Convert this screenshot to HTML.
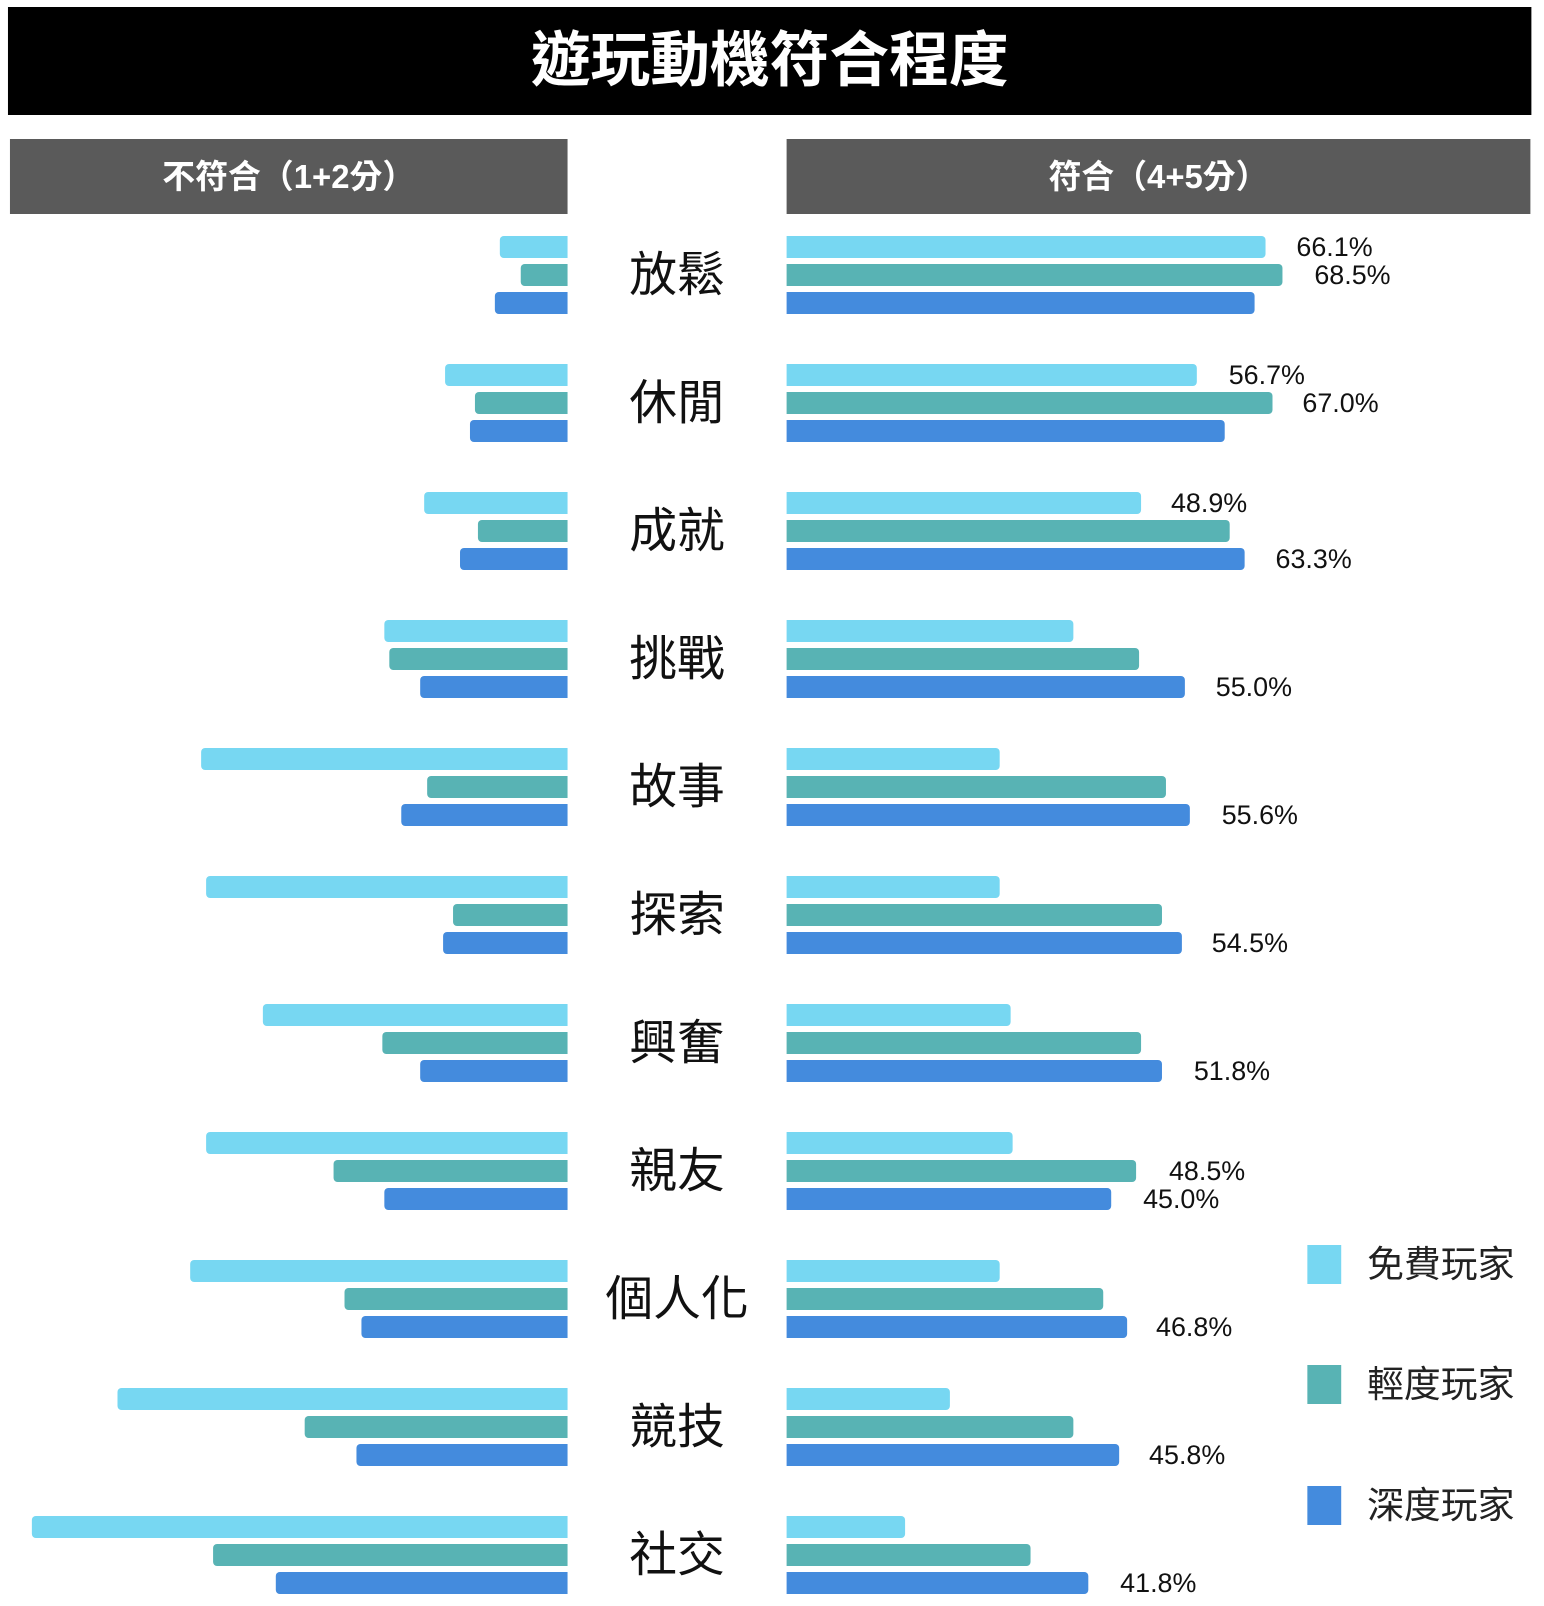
<!DOCTYPE html>
<html><head><meta charset="utf-8"><style>
body{margin:0;width:1544px;height:1606px;background:#fff;position:relative;overflow:hidden;font-family:"Liberation Sans","Noto Sans CJK TC",sans-serif}
#w{position:absolute;left:0;top:0;width:1544px;height:1606px;transform:scaleX(0.9957);transform-origin:0 0}
div{position:absolute;box-sizing:border-box}
.L{background:#77d7f2}.T{background:#58b3b4}.B{background:#448bdd}
.r{left:790px;height:22px;border-radius:0 4px 4px 0}
.lf{height:22px;border-radius:4px 0 0 4px}
.v{font-size:27px;line-height:28px;color:#111;white-space:nowrap}
.c{left:590px;width:180px;text-align:center;font-size:48px;line-height:56px;color:#111}
.h{background:#5a5a5a;color:#fff;font-weight:bold;font-size:33px;text-align:center;top:139px;height:75px;line-height:75px}
.g{font-size:37px;color:#222;left:1373px;line-height:40px}
.s{left:1313px;width:34px;height:39px}
</style></head><body><div id="w">
<div style="left:8px;top:7px;width:1530px;height:108px;background:#000;color:#fff;font-weight:bold;font-size:60px;line-height:108px;text-align:center">遊玩動機符合程度</div>
<div class="h" style="left:10px;width:560px">不符合（1+2分）</div>
<div class="h" style="left:790px;width:747px">符合（4+5分）</div>

<div class="c" style="top:248px">放鬆</div>
<div class="c" style="top:376px">休閒</div>
<div class="c" style="top:504px">成就</div>
<div class="c" style="top:632px">挑戰</div>
<div class="c" style="top:760px">故事</div>
<div class="c" style="top:888px">探索</div>
<div class="c" style="top:1016px">興奮</div>
<div class="c" style="top:1144px">親友</div>
<div class="c" style="top:1272px">個人化</div>
<div class="c" style="top:1400px">競技</div>
<div class="c" style="top:1528px">社交</div>

<div class="r L" style="top:236px;width:481px"></div><div class="r T" style="top:264px;width:498px"></div><div class="r B" style="top:292px;width:470px"></div>
<div class="r L" style="top:364px;width:412px"></div><div class="r T" style="top:392px;width:488px"></div><div class="r B" style="top:420px;width:440px"></div>
<div class="r L" style="top:492px;width:356px"></div><div class="r T" style="top:520px;width:445px"></div><div class="r B" style="top:548px;width:460px"></div>
<div class="r L" style="top:620px;width:288px"></div><div class="r T" style="top:648px;width:354px"></div><div class="r B" style="top:676px;width:400px"></div>
<div class="r L" style="top:748px;width:214px"></div><div class="r T" style="top:776px;width:381px"></div><div class="r B" style="top:804px;width:405px"></div>
<div class="r L" style="top:876px;width:214px"></div><div class="r T" style="top:904px;width:377px"></div><div class="r B" style="top:932px;width:397px"></div>
<div class="r L" style="top:1004px;width:225px"></div><div class="r T" style="top:1032px;width:356px"></div><div class="r B" style="top:1060px;width:377px"></div>
<div class="r L" style="top:1132px;width:227px"></div><div class="r T" style="top:1160px;width:351px"></div><div class="r B" style="top:1188px;width:326px"></div>
<div class="r L" style="top:1260px;width:214px"></div><div class="r T" style="top:1288px;width:318px"></div><div class="r B" style="top:1316px;width:342px"></div>
<div class="r L" style="top:1388px;width:164px"></div><div class="r T" style="top:1416px;width:288px"></div><div class="r B" style="top:1444px;width:334px"></div>
<div class="r L" style="top:1516px;width:119px"></div><div class="r T" style="top:1544px;width:245px"></div><div class="r B" style="top:1572px;width:303px"></div>

<div class="lf L" style="top:236px;left:502px;width:68px"></div><div class="lf T" style="top:264px;left:523px;width:47px"></div><div class="lf B" style="top:292px;left:497px;width:73px"></div>
<div class="lf L" style="top:364px;left:447px;width:123px"></div><div class="lf T" style="top:392px;left:477px;width:93px"></div><div class="lf B" style="top:420px;left:472px;width:98px"></div>
<div class="lf L" style="top:492px;left:426px;width:144px"></div><div class="lf T" style="top:520px;left:480px;width:90px"></div><div class="lf B" style="top:548px;left:462px;width:108px"></div>
<div class="lf L" style="top:620px;left:386px;width:184px"></div><div class="lf T" style="top:648px;left:391px;width:179px"></div><div class="lf B" style="top:676px;left:422px;width:148px"></div>
<div class="lf L" style="top:748px;left:202px;width:368px"></div><div class="lf T" style="top:776px;left:429px;width:141px"></div><div class="lf B" style="top:804px;left:403px;width:167px"></div>
<div class="lf L" style="top:876px;left:207px;width:363px"></div><div class="lf T" style="top:904px;left:455px;width:115px"></div><div class="lf B" style="top:932px;left:445px;width:125px"></div>
<div class="lf L" style="top:1004px;left:264px;width:306px"></div><div class="lf T" style="top:1032px;left:384px;width:186px"></div><div class="lf B" style="top:1060px;left:422px;width:148px"></div>
<div class="lf L" style="top:1132px;left:207px;width:363px"></div><div class="lf T" style="top:1160px;left:335px;width:235px"></div><div class="lf B" style="top:1188px;left:386px;width:184px"></div>
<div class="lf L" style="top:1260px;left:191px;width:379px"></div><div class="lf T" style="top:1288px;left:346px;width:224px"></div><div class="lf B" style="top:1316px;left:363px;width:207px"></div>
<div class="lf L" style="top:1388px;left:118px;width:452px"></div><div class="lf T" style="top:1416px;left:306px;width:264px"></div><div class="lf B" style="top:1444px;left:358px;width:212px"></div>
<div class="lf L" style="top:1516px;left:32px;width:538px"></div><div class="lf T" style="top:1544px;left:214px;width:356px"></div><div class="lf B" style="top:1572px;left:277px;width:293px"></div>

<div class="v" style="top:233px;left:1302px">66.1%</div>
<div class="v" style="top:261px;left:1320px">68.5%</div>
<div class="v" style="top:361px;left:1234px">56.7%</div>
<div class="v" style="top:389px;left:1308px">67.0%</div>
<div class="v" style="top:489px;left:1176px">48.9%</div>
<div class="v" style="top:545px;left:1281px">63.3%</div>
<div class="v" style="top:673px;left:1221px">55.0%</div>
<div class="v" style="top:801px;left:1227px">55.6%</div>
<div class="v" style="top:929px;left:1217px">54.5%</div>
<div class="v" style="top:1057px;left:1199px">51.8%</div>
<div class="v" style="top:1157px;left:1174px">48.5%</div>
<div class="v" style="top:1185px;left:1148px">45.0%</div>
<div class="v" style="top:1313px;left:1161px">46.8%</div>
<div class="v" style="top:1441px;left:1154px">45.8%</div>
<div class="v" style="top:1569px;left:1125px">41.8%</div>

<div class="s L" style="top:1245px"></div><div class="g" style="top:1245px">免費玩家</div>
<div class="s T" style="top:1365px"></div><div class="g" style="top:1365px">輕度玩家</div>
<div class="s B" style="top:1486px"></div><div class="g" style="top:1486px">深度玩家</div>
</div></body></html>
